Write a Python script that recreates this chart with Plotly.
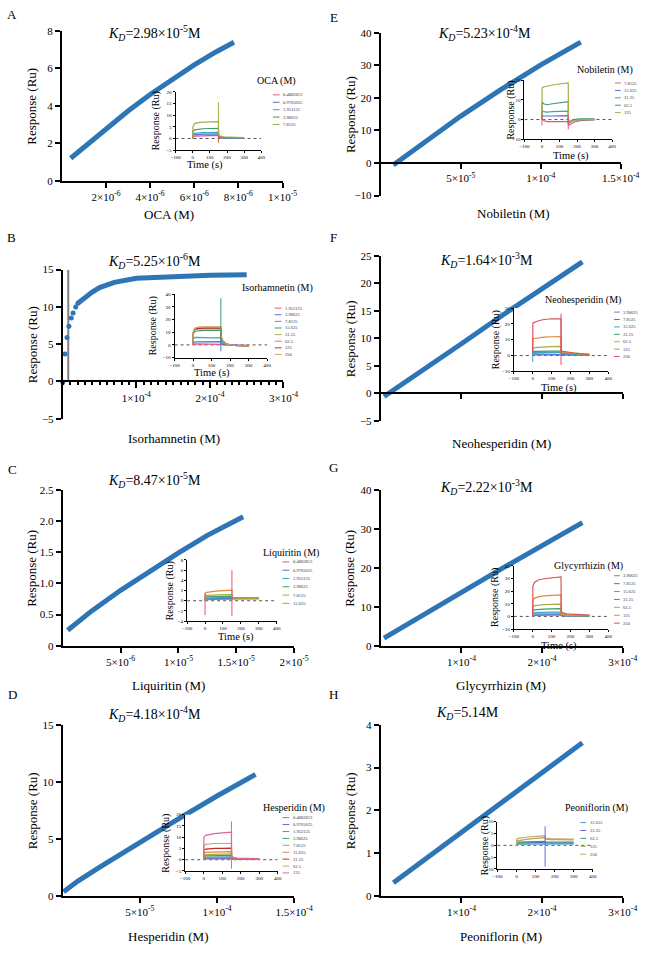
import plotly.graph_objects as go

W, H = 660, 953
FONT = "Liberation Serif, Times New Roman, serif"
BLUE = "#2E75B6"
PINK, INDIGO, TEAL, GREEN = "#e8537a", "#5b6ed8", "#3aa7b8", "#3d9a6a"
OLIVE, ORANGE, DARKRED, TAN = "#a8ad45", "#e0893b", "#b8322b", "#c9a76e"
PURPLE, MAGENTA, RED = "#8e6bc4", "#e0649c", "#e0505e"

# ---------------- main binding curves (concentration M, response RU) ----------------
oca_conc = [0.4e-6, 1e-6, 2e-6, 3e-6, 4e-6, 5e-6, 6e-6, 7e-6, 7.8e-6]
oca_resp = [1.2, 1.8, 2.78, 3.72, 4.6, 5.42, 6.18, 6.88, 7.38]

isor_dot_conc = [0, 3.0e-6, 5.7e-6, 8.3e-6, 1.15e-5, 1.4e-5, 1.75e-5, 2.05e-5]
isor_dot_resp = [-0.1, 3.7, 5.9, 7.4, 8.5, 9.2, 10.0, 10.5]
isor_conc = [2.05e-5, 3e-5, 4e-5, 5e-5, 7e-5, 1e-4, 1.5e-4, 2e-4, 2.5e-4]
isor_resp = [10.5, 11.3, 12.0, 12.6, 13.3, 13.85, 14.1, 14.25, 14.3]
isor_ref_conc = [7.4e-6, 7.4e-6]
isor_ref_resp = [0, 15]

liq_conc = [0.42e-6, 2.5e-6, 5e-6, 7.5e-6, 1e-5, 1.25e-5, 1.56e-5]
liq_resp = [0.25, 0.56, 0.89, 1.2, 1.49, 1.77, 2.07]

hes_conc = [0.49e-6, 1e-5, 2.5e-5, 5e-5, 7.5e-5, 1e-4, 1.25e-4]
hes_resp = [0.35, 1.3, 2.6, 4.7, 6.75, 8.75, 10.65]

nob_conc = [0.78e-5, 2.5e-5, 5e-5, 7.5e-5, 1e-4, 1.25e-4]
nob_resp = [-0.6, 5.6, 14.4, 22.5, 30.1, 37.1]

neo_conc = [0.04e-4, 0.5e-4, 1.0e-4, 1.5e-4, 2.0e-4, 2.5e-4]
neo_resp = [-0.6, 3.9, 9.0, 14.1, 19.1, 23.9]

gly_conc = [0.04e-4, 0.5e-4, 1.0e-4, 1.5e-4, 2.0e-4, 2.5e-4]
gly_resp = [2.0, 7.7, 13.8, 19.8, 25.7, 31.6]

peo_conc = [0.156e-4, 0.5e-4, 1.0e-4, 1.5e-4, 2.0e-4, 2.5e-4]
peo_resp = [0.3, 0.78, 1.48, 2.18, 2.88, 3.58]

# ---------------- tick labels ----------------
oca_xticks = [2e-6, 4e-6, 6e-6, 8e-6, 1e-5]
oca_xticktext = ["2×10<sup>-6</sup>", "4×10<sup>-6</sup>", "6×10<sup>-6</sup>", "8×10<sup>-6</sup>", "1×10<sup>-5</sup>"]
oca_yticks = [0, 2, 4, 6, 8]
isor_xticks = [1e-4, 2e-4, 3e-4]
isor_xticktext = ["1×10<sup>-4</sup>", "2×10<sup>-4</sup>", "3×10<sup>-4</sup>"]
isor_yticks = [-5, 0, 5, 10, 15]
liq_xticks = [5e-6, 1e-5, 1.5e-5, 2e-5]
liq_xticktext = ["5×10<sup>-6</sup>", "1×10<sup>-5</sup>", "1.5×10<sup>-5</sup>", "2×10<sup>-5</sup>"]
liq_yticks = [0, 0.5, 1.0, 1.5, 2.0, 2.5]
liq_yticktext = ["0", "0.5", "1.0", "1.5", "2.0", "2.5"]
hes_xticks = [5e-5, 1e-4, 1.5e-4]
hes_xticktext = ["5×10<sup>-5</sup>", "1×10<sup>-4</sup>", "1.5×10<sup>-4</sup>"]
hes_yticks = [0, 5, 10, 15]
nob_yticks = [-10, 0, 10, 20, 30, 40]
neo_yticks = [-5, 0, 5, 10, 15, 20, 25]
gly_yticks = [0, 10, 20, 30, 40]
peo_yticks = [0, 1, 2, 3, 4]

# ---------------- inset sensorgrams (time s, response RU) ----------------
time_s = [0, 1, 10, 30, 60, 100, 150, 151, 160, 180, 220, 300]
baseline_t = [-100, 400]
baseline_r = [0, 0]
inset_time_ticks = [-100, 0, 100, 200, 300, 400]

oca_levels = ["0.4882813", "0.9765625", "1.953125", "3.90625", "7.8125"]
oca_sensor = [
    [0, 0.8, 1.0, 1.1, 1.2, 1.2, 1.2, 0.5, 0.3, 0.2, 0.1, 0.1],
    [0, 1.3, 1.6, 1.8, 1.9, 1.9, 2.0, 0.7, 0.4, 0.3, 0.2, 0.2],
    [0, 1.8, 2.2, 2.4, 2.5, 2.5, 2.6, 0.9, 0.5, 0.4, 0.3, 0.3],
    [0, 3.0, 3.7, 4.0, 4.2, 4.3, 4.4, 1.2, 0.7, 0.5, 0.4, 0.3],
    [0, 5.0, 6.3, 6.8, 7.0, 7.1, 7.2, 1.8, 1.0, 0.7, 0.5, 0.4]]
oca_spikes = [(150, -2, 15.5, 4), (150, -1.5, 1.2, 0)]
oca_inset_yticks = [-5, 0, 5, 10, 15, 20]

isor_levels = ["1.953125", "3.90625", "7.8125", "15.625", "31.25", "62.5", "125", "250"]
isor_sensor = [
    [0, 0.6, 0.8, 0.8, 0.8, 0.8, 0.8, 0.4, 0.2, 0.0, -0.2, -0.3],
    [0, 1.8, 2.4, 2.5, 2.5, 2.5, 2.5, 1.2, 0.6, 0.1, -0.3, -0.5],
    [0, 4.5, 6.0, 5.8, 5.6, 5.5, 5.5, 2.8, 1.5, 0.3, -0.4, -0.6],
    [0, 8.5, 10.8, 11.3, 11.5, 11.5, 11.5, 5.5, 3.0, 0.6, -0.5, -0.8],
    [0, 9.5, 12.0, 12.5, 12.6, 12.6, 12.6, 6.0, 3.2, 0.7, -0.5, -0.8],
    [0, 10.0, 13.0, 13.8, 14.0, 14.0, 14.0, 6.5, 3.4, 0.8, -0.5, -0.8],
    [0, 9.8, 12.8, 13.2, 13.3, 13.3, 13.2, 6.2, 3.3, 0.7, -0.5, -0.8],
    [0, 10.2, 13.3, 14.0, 14.3, 14.3, 14.3, 6.6, 3.5, 0.8, -0.5, -0.8]]
isor_spikes = [(150, 0, 37, 3), (150, -5, 5, 1)]
isor_inset_yticks = [-10, 0, 10, 20, 30, 40]

liq_levels = ["0.4882813", "0.9765625", "1.953125", "3.90625", "7.8125", "15.625"]
liq_sensor = [
    [0, 0.2, 0.2, 0.25, 0.3, 0.3, 0.3, 0.35, 0.35, 0.35, 0.35, 0.35],
    [0, 0.3, 0.35, 0.4, 0.4, 0.4, 0.45, 0.45, 0.45, 0.45, 0.45, 0.45],
    [0, 0.45, 0.5, 0.55, 0.6, 0.6, 0.6, 0.5, 0.5, 0.5, 0.5, 0.5],
    [0, 0.7, 0.75, 0.8, 0.85, 0.85, 0.9, 0.55, 0.5, 0.5, 0.5, 0.5],
    [0, 1.0, 1.05, 1.1, 1.15, 1.2, 1.2, 0.6, 0.55, 0.5, 0.5, 0.5],
    [0, 1.5, 1.65, 1.8, 1.9, 2.0, 2.1, 0.7, 0.6, 0.55, 0.55, 0.55]]
liq_spikes = [(0, -2.8, 1.5, 0), (150, -3, 6, 0)]
liq_inset_yticks = [-4, -2, 0, 2, 4, 6, 8]

hes_levels = ["0.4882813", "0.9765625", "1.953125", "3.90625", "7.8125", "15.625", "31.25", "62.5", "125"]
hes_sensor = [
    [0, 0.3, 0.35, 0.4, 0.4, 0.4, 0.4, 0.3, 0.3, 0.3, 0.3, 0.3],
    [0, 0.7, 0.75, 0.8, 0.8, 0.8, 0.8, 0.4, 0.35, 0.3, 0.3, 0.3],
    [0, 1.0, 1.1, 1.2, 1.2, 1.2, 1.25, 0.5, 0.4, 0.35, 0.3, 0.3],
    [0, 1.5, 1.7, 1.8, 1.8, 1.85, 1.9, 0.6, 0.45, 0.4, 0.35, 0.3],
    [0, 2.1, 2.3, 2.4, 2.5, 2.5, 2.6, 0.7, 0.5, 0.4, 0.35, 0.3],
    [0, 3.0, 3.3, 3.4, 3.5, 3.5, 3.6, 0.8, 0.6, 0.45, 0.4, 0.35],
    [0, 4.3, 4.7, 4.9, 5.0, 5.0, 5.1, 1.0, 0.7, 0.5, 0.4, 0.35],
    [0, 6.2, 6.8, 7.0, 7.2, 7.2, 7.3, 1.3, 0.8, 0.6, 0.45, 0.4],
    [0, 10.0, 10.8, 11.2, 11.6, 11.9, 12.2, 1.8, 1.0, 0.7, 0.5, 0.4]]
hes_spikes = [(150, -4, 17, 8)]
hes_inset_yticks = [-5, 0, 5, 10, 15, 20]

nob_levels = ["7.8125", "15.625", "31.25", "62.5", "125"]
nob_sensor = [
    [0, 0.5, -0.5, -1.0, -1.0, -1.0, -1.0, -3.0, -2.5, -1.5, -0.5, 0],
    [0, 2.0, 1.8, 1.7, 1.8, 1.9, 2.0, -1.5, -1.0, -0.5, 0, 0],
    [0, 4.5, 4.0, 3.8, 4.0, 4.2, 4.3, -2.0, -1.5, -0.5, 0, 0],
    [0, 9.0, 8.0, 7.5, 8.0, 8.5, 9.0, -1.5, -1.0, 0, 0.3, 0.3],
    [0, 16.0, 16.5, 17.0, 17.5, 18.0, 18.5, 0.0, -1.0, -0.5, 0, 0]]
nob_spikes = [(0, -3, 3, 0), (150, -5, 2, 0)]
nob_inset_yticks = [-10, 0, 10, 20]

neo_levels = ["3.90625", "7.8125", "15.625", "31.25", "62.5", "125", "250"]
neo_sensor = [
    [0, 0.4, 0.5, 0.5, 0.5, 0.5, 0.5, 0.4, 0.35, 0.3, 0.3, 0.2],
    [0, 0.9, 1.0, 1.0, 1.0, 1.0, 1.0, 0.8, 0.7, 0.6, 0.5, 0.3],
    [0, 1.8, 2.0, 2.0, 2.0, 2.0, 2.0, 1.5, 1.3, 1.1, 0.8, 0.4],
    [0, 2.6, 2.7, 2.8, 2.8, 2.8, 2.8, 2.0, 1.8, 1.5, 1.1, 0.5],
    [0, 4.8, 5.0, 5.2, 5.5, 5.7, 5.8, 2.5, 2.2, 1.8, 1.3, 0.6],
    [0, 10.5, 10.8, 11.2, 11.6, 11.9, 12.0, 2.8, 2.5, 2.0, 1.5, 0.7],
    [0, 20.5, 21.0, 22.0, 22.8, 23.3, 23.2, 3.0, 2.7, 2.2, 1.6, 0.8]]
neo_spikes = [(0, -4, 2, 2), (150, -6, 26.5, 6)]
neo_inset_yticks = [-10, 0, 10, 20, 30]

gly_levels = ["3.90625", "7.8125", "15.625", "31.25", "62.5", "125", "250"]
gly_sensor = [
    [0, 0.8, 0.9, 1.0, 1.0, 1.0, 1.0, 0.5, 0.4, 0.35, 0.3, 0.3],
    [0, 1.6, 1.8, 1.9, 2.0, 2.0, 2.0, 0.7, 0.5, 0.45, 0.4, 0.35],
    [0, 2.7, 3.0, 3.2, 3.3, 3.4, 3.5, 0.9, 0.7, 0.6, 0.5, 0.4],
    [0, 4.5, 5.2, 5.6, 5.8, 6.0, 6.2, 1.2, 0.9, 0.7, 0.6, 0.5],
    [0, 7.5, 8.5, 9.0, 9.3, 9.6, 9.8, 1.6, 1.2, 0.9, 0.7, 0.6],
    [0, 12.5, 14.5, 15.5, 16.2, 16.7, 17.0, 2.5, 1.8, 1.3, 1.0, 0.8],
    [0, 24.0, 27.0, 28.8, 29.8, 30.6, 31.2, 4.0, 2.8, 2.0, 1.5, 1.1]]
gly_spikes = []
gly_inset_yticks = [-10, 0, 10, 20, 30, 40]

peo_levels = ["15.625", "31.25", "62.5", "125", "250"]
peo_sensor = [
    [0, 0.4, 0.5, 0.5, 0.6, 0.6, 0.6, 0.6, 0.6, 0.6, 0.6, 0.6],
    [0, 0.8, 0.9, 1.0, 1.0, 1.1, 1.1, 1.0, 1.0, 1.0, 1.0, 1.0],
    [0, 1.2, 1.3, 1.4, 1.5, 1.6, 1.7, 1.5, 1.5, 1.4, 1.4, 1.4],
    [0, 1.8, 2.0, 2.3, 2.6, 2.9, 3.2, 2.6, 2.5, 2.4, 2.4, 2.3],
    [0, 2.6, 2.9, 3.2, 3.5, 3.8, 4.0, 3.0, 2.9, 2.8, 2.7, 2.6]]
peo_spikes = [(150, -9, 8, 1)]
peo_inset_yticks = [-10, -5, 0, 5, 10]


def KD(v):
    return "<i>K</i><sub><i>D</i></sub>=" + v + "M"


panels = [
    dict(letter="A", lp=(7, 9), kd=KD("2.98×10<sup>-5</sup>"), kdp=(155, 27),
         mx=(59, 288), my=(177, 25), xr=[0, 1e-5], yr=[0, 8],
         xt=oca_xticks, xtt=oca_xticktext, yt=oca_yticks, ytt=None, xlab=True, minor=False,
         xtitle="OCA (M)", xtp=(170, 211), ytx=28,
         ix=(177, 266), iy=(146, 87), iyr=[-5, 20], iyt=oca_inset_yticks, iytx=157, timep=(208, 161),
         leg="OCA (M)", legp=(282, 76), sw=(278, 285), ly0=90, ldy=7.5,
         levels=oca_levels, sensor=oca_sensor, spikes=oca_spikes,
         colors=[PINK, INDIGO, TEAL, GREEN, OLIVE],
         lines=[(oca_conc, oca_resp)], dots=None, ref=None),
    dict(letter="B", lp=(7, 234), kd=KD("5.25×10<sup>-6</sup>"), kdp=(155, 258),
         mx=(60, 289), my=(418, 267), xr=[0, 3e-4], yr=[-5, 15],
         xt=isor_xticks, xtt=isor_xticktext, yt=isor_yticks, ytt=None, xlab=True, minor=True,
         xtitle="Isorhamnetin (M)", xtp=(175, 438), ytx=28,
         ix=(176, 272), iy=(356, 292), iyr=[-10, 40], iyt=isor_inset_yticks, iytx=154, timep=(215, 372),
         leg="Isorhamnetin (M)", legp=(283, 286), sw=(280, 287), ly0=306, ldy=6.7,
         levels=isor_levels, sensor=isor_sensor, spikes=isor_spikes,
         colors=[PINK, INDIGO, TEAL, GREEN, OLIVE, ORANGE, DARKRED, TAN],
         lines=[(isor_conc, isor_resp)], dots=(isor_dot_conc, isor_dot_resp),
         ref=(isor_ref_conc, isor_ref_resp)),
    dict(letter="C", lp=(8, 469), kd=KD("8.47×10<sup>-5</sup>"), kdp=(155, 480),
         mx=(60, 300), my=(648, 490), xr=[0, 2e-5], yr=[0, 2.5],
         xt=liq_xticks, xtt=liq_xticktext, yt=liq_yticks, ytt=liq_yticktext, xlab=True, minor=False,
         xtitle="Liquiritin (M)", xtp=(170, 688), ytx=28,
         ix=(189, 282), iy=(623, 561), iyr=[-4, 8], iyt=liq_inset_yticks, iytx=171, timep=(240, 639),
         leg="Liquiritin (M)", legp=(297, 554), sw=(288, 295), ly0=563, ldy=8.4,
         levels=liq_levels, sensor=liq_sensor, spikes=liq_spikes,
         colors=[PINK, INDIGO, TEAL, GREEN, OLIVE, ORANGE],
         lines=[(liq_conc, liq_resp)], dots=None, ref=None),
    dict(letter="D", lp=(8, 697), kd=KD("4.18×10<sup>-4</sup>"), kdp=(155, 717),
         mx=(60, 300), my=(901, 728), xr=[0, 1.5e-4], yr=[0, 15],
         xt=hes_xticks, xtt=hes_xticktext, yt=hes_yticks, ytt=None, xlab=True, minor=False,
         xtitle="Hesperidin (M)", xtp=(170, 942), ytx=28,
         ix=(187, 283), iy=(876, 819), iyr=[-5, 20], iyt=hes_inset_yticks, iytx=167, timep=None,
         leg="Hesperidin (M)", legp=(300, 812), sw=(288, 295), ly0=822, ldy=7,
         levels=hes_levels, sensor=hes_sensor, spikes=hes_spikes,
         colors=[PINK, INDIGO, TEAL, GREEN, OLIVE, ORANGE, DARKRED, TAN, MAGENTA],
         lines=[(hes_conc, hes_resp)], dots=None, ref=None),
    dict(letter="E", lp=(341, 12), kd=KD("5.23×10<sup>-4</sup>"), kdp=(498, 27),
         mx=(390, 639), my=(192, 27), xr=[0, 1.5e-4], yr=[-10, 40],
         xt=hes_xticks, xtt=hes_xticktext, yt=nob_yticks, ytt=None, xlab=True, minor=False,
         xtitle="Nobiletin (M)", xtp=(528, 210), ytx=358,
         ix=(539, 630), iy=(135, 75), iyr=[-10, 20], iyt=nob_inset_yticks, iytx=525, timep=(587, 152),
         leg="Nobiletin (M)", legp=(623, 65), sw=(633, 639), ly0=78, ldy=7.5,
         levels=nob_levels, sensor=nob_sensor, spikes=nob_spikes,
         colors=[PINK, INDIGO, TEAL, GREEN, OLIVE],
         lines=[(nob_conc, nob_resp)], dots=None, ref=None),
    dict(letter="F", lp=(341, 234), kd=KD("1.64×10<sup>-3</sup>"), kdp=(500, 257),
         mx=(390, 641), my=(420, 253), xr=[0, 3e-4], yr=[-5, 25],
         xt=isor_xticks, xtt=isor_xticktext, yt=neo_yticks, ytt=None, xlab=False, minor=False,
         xtitle="Neohesperidin (M)", xtp=(515, 443), ytx=358,
         ix=(528, 626), iy=(370, 306), iyr=[-10, 30], iyt=neo_inset_yticks, iytx=509, timep=(575, 387),
         leg="Neohesperidin (M)", legp=(600, 298), sw=(632, 638), ly0=310, ldy=7.5,
         levels=neo_levels, sensor=neo_sensor, spikes=neo_spikes,
         colors=[PURPLE, INDIGO, TEAL, GREEN, OLIVE, ORANGE, RED],
         lines=[(neo_conc, neo_resp)], dots=None, ref=None),
    dict(letter="G", lp=(341, 467), kd=KD("2.22×10<sup>-3</sup>"), kdp=(500, 487),
         mx=(390, 641), my=(648, 490), xr=[0, 3e-4], yr=[0, 40],
         xt=isor_xticks, xtt=isor_xticktext, yt=gly_yticks, ytt=None, xlab=True, minor=False,
         xtitle="Glycyrrhizin (M)", xtp=(515, 688), ytx=358,
         ix=(528, 626), iy=(631, 567), iyr=[-10, 40], iyt=gly_inset_yticks, iytx=509, timep=(575, 648),
         leg="Glycyrrhizin (M)", legp=(605, 567), sw=(632, 638), ly0=577, ldy=8,
         levels=gly_levels, sensor=gly_sensor, spikes=gly_spikes,
         colors=[PURPLE, INDIGO, TEAL, GREEN, OLIVE, ORANGE, RED],
         lines=[(gly_conc, gly_resp)], dots=None, ref=None),
    dict(letter="H", lp=(341, 697), kd=KD("5.14"), kdp=(480, 717),
         mx=(390, 641), my=(901, 728), xr=[0, 3e-4], yr=[0, 4],
         xt=isor_xticks, xtt=isor_xticktext, yt=peo_yticks, ytt=None, xlab=True, minor=False,
         xtitle="Peoniflorin (M)", xtp=(515, 942), ytx=358,
         ix=(511, 610), iy=(874, 826), iyr=[-10, 10], iyt=peo_inset_yticks, iytx=498, timep=None,
         leg="Peoniflorin (M)", legp=(614, 812), sw=(597, 603), ly0=827, ldy=8,
         levels=peo_levels, sensor=peo_sensor, spikes=peo_spikes,
         colors=[TEAL, INDIGO, GREEN, OLIVE, TAN],
         lines=[(peo_conc, peo_resp)], dots=None, ref=None),
]


def fx(px):
    return px / W


def fy(py):
    return 1 - py / H


def sfx(n):
    return "" if n == 1 else str(n)


fig = go.Figure()
layout = dict(width=W, height=H, margin=dict(l=0, r=0, t=0, b=0),
              paper_bgcolor="white", plot_bgcolor="white", showlegend=False,
              font=dict(family=FONT, color="black"))
annotations = []
shapes = []


def ann(text, x, y, size, xanchor="center", angle=0, color="black"):
    annotations.append(dict(text=text, x=fx(x), y=fy(y), xref="paper", yref="paper",
                            xanchor=xanchor, yanchor="middle", showarrow=False, textangle=angle,
                            font=dict(family=FONT, size=size, color=color)))


for i, p in enumerate(panels):
    m = 2 * i + 1
    n = 2 * i + 2
    xm, ym = "x" + sfx(m), "y" + sfx(m)
    xn, yn = "x" + sfx(n), "y" + sfx(n)

    # ---- main axes ----
    ydom = [fy(p["my"][0]), fy(p["my"][1])]
    y0, y1 = p["yr"]
    xa = dict(domain=[fx(p["mx"][0]), fx(p["mx"][1])], range=p["xr"], showline=True,
              linecolor="black", linewidth=2, ticks="outside", ticklen=5, tickwidth=2,
              tickcolor="black", tickmode="array", tickvals=p["xt"], ticktext=p["xtt"],
              showticklabels=p["xlab"], tickfont=dict(family=FONT, size=11, color="black"),
              showgrid=False, zeroline=False)
    if p["minor"]:
        xa["ticklen"] = 6
        xa["minor"] = dict(ticks="outside", ticklen=3, tickwidth=1.5, tickcolor="black",
                           tickmode="linear", tick0=0, dtick=1e-5, showgrid=False)
    if y0 < 0:
        frac = (0 - y0) / (y1 - y0)
        xa.update(anchor="free", position=ydom[0] + frac * (ydom[1] - ydom[0]))
    else:
        xa.update(anchor=ym)
    ya = dict(domain=ydom, range=p["yr"], anchor=xm, showline=True, linecolor="black",
              linewidth=2, ticks="outside", ticklen=5, tickwidth=2, tickcolor="black",
              tickmode="array", tickvals=p["yt"],
              tickfont=dict(family=FONT, size=11, color="black"), showgrid=False, zeroline=False)
    if p["ytt"] is not None:
        ya["ticktext"] = p["ytt"]
    layout["xaxis" + sfx(m)] = xa
    layout["yaxis" + sfx(m)] = ya

    # ---- inset axes ----
    layout["xaxis" + sfx(n)] = dict(domain=[fx(p["ix"][0]), fx(p["ix"][1])], range=[-100, 400],
                                   anchor=yn, showline=True, linecolor="black", linewidth=1,
                                   ticks="outside", ticklen=2, tickwidth=1, tickcolor="black",
                                   tickmode="array", tickvals=inset_time_ticks,
                                   tickfont=dict(family=FONT, size=5, color="black"),
                                   showgrid=False, zeroline=False)
    layout["yaxis" + sfx(n)] = dict(domain=[fy(p["iy"][0]), fy(p["iy"][1])], range=p["iyr"],
                                   anchor=xn, showline=True, linecolor="black", linewidth=1,
                                   ticks="outside", ticklen=2, tickwidth=1, tickcolor="black",
                                   tickmode="array", tickvals=p["iyt"],
                                   tickfont=dict(family=FONT, size=5, color="black"),
                                   showgrid=False, zeroline=False)

    # ---- main traces ----
    if p["ref"] is not None:
        fig.add_trace(go.Scatter(x=p["ref"][0], y=p["ref"][1], mode="lines",
                                 line=dict(color="#7f7f7f", width=2), xaxis=xm, yaxis=ym))
    for cx, cy in p["lines"]:
        fig.add_trace(go.Scatter(x=cx, y=cy, mode="lines",
                                 line=dict(color=BLUE, width=5),
                                 xaxis=xm, yaxis=ym))
    if p["dots"] is not None:
        fig.add_trace(go.Scatter(x=p["dots"][0], y=p["dots"][1], mode="markers",
                                 marker=dict(color=BLUE, size=5), xaxis=xm, yaxis=ym,
                                 cliponaxis=False))

    # ---- inset traces ----
    fig.add_trace(go.Scatter(x=baseline_t, y=baseline_r, mode="lines",
                             line=dict(color="#555555", width=1, dash="dot"), xaxis=xn, yaxis=yn))
    for j, resp in enumerate(p["sensor"]):
        fig.add_trace(go.Scatter(x=time_s, y=resp, mode="lines",
                                 line=dict(color=p["colors"][j], width=1.2), xaxis=xn, yaxis=yn))
    for (t, lo, hi, k) in p["spikes"]:
        fig.add_trace(go.Scatter(x=[t, t], y=[lo, hi], mode="lines",
                                 line=dict(color=p["colors"][k], width=1), xaxis=xn, yaxis=yn))

    # ---- texts ----
    ann(p["letter"], p["lp"][0], p["lp"][1], 13)
    ann(p["kd"], p["kdp"][0], p["kdp"][1], 14)
    ann(p["xtitle"], p["xtp"][0], p["xtp"][1], 13)
    ann("Response (Ru)", p["ytx"], (p["my"][0] + p["my"][1]) / 2, 13, angle=-90)
    ann("Response (Ru)", p["iytx"], (p["iy"][0] + p["iy"][1]) / 2, 10, angle=-90)
    if p["timep"] is not None:
        ann("Time (s)", p["timep"][0], p["timep"][1], 10.5)
    ann(p["leg"], p["legp"][0], p["legp"][1], 10)
    for j, lab in enumerate(p["levels"]):
        yy = p["ly0"] + j * p["ldy"]
        shapes.append(dict(type="line", xref="paper", yref="paper",
                           x0=fx(p["sw"][0]), x1=fx(p["sw"][1]), y0=fy(yy), y1=fy(yy),
                           line=dict(color=p["colors"][j], width=1)))
        ann(lab, p["sw"][1] + 1.5, yy, 4.5, xanchor="left", color="#333333")

layout["annotations"] = annotations
layout["shapes"] = shapes
fig.update_layout(**layout)
fig.write_html("out.html")
